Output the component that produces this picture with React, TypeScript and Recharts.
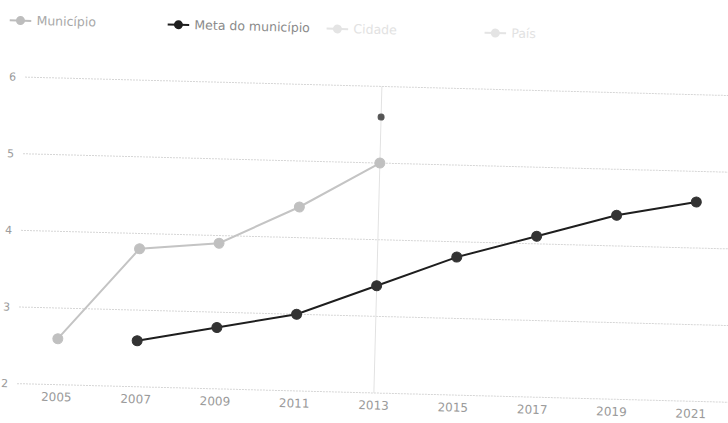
import React from "react";
import {
  LineChart,
  Line,
  XAxis,
  YAxis,
  CartesianGrid,
  Legend,
  ReferenceLine,
  ReferenceDot,
} from "recharts";

const years = [2005, 2007, 2009, 2011, 2013, 2015, 2017, 2019, 2021];
const municipio: (number | null)[] = [2.6, 3.8, 3.9, 4.4, 5.0, null, null, null, null];
const metaMunicipio: (number | null)[] = [null, 2.6, 2.8, 3.0, 3.4, 3.8, 4.1, 4.4, 4.6];
const yTicks = [2, 3, 4, 5, 6];
const legendLabels = ["Município", "Meta do município", "Cidade", "País"];
const cursorYear = 2013;
const tooltipAnchor = { year: 2013, value: 5.6 };

const data = years.map((year, i) => ({
  year,
  municipio: municipio[i],
  meta: metaMunicipio[i],
}));

const FONT = "'DejaVu Sans', sans-serif";

const legendStyles = [
  { left: 4, icon: "#bdbdbd", text: "#a8a8a8" },
  { left: 162, icon: "#1e1e1e", text: "#8a8a8a" },
  { left: 321, icon: "#e4e4e4", text: "#e2e2e2" },
  { left: 479, icon: "#e4e4e4", text: "#e2e2e2" },
];

function LegendContent() {
  return (
    <div style={{ position: "relative", height: 0, width: 740 }}>
      {legendLabels.map((label, i) => {
        const s = legendStyles[i];
        return (
          <div
            key={label}
            style={{
              position: "absolute",
              left: s.left,
              top: 22,
              display: "flex",
              alignItems: "center",
              fontFamily: FONT,
              fontSize: 12.5,
              color: s.text,
              whiteSpace: "nowrap",
            }}
          >
            <svg width={22} height={14} style={{ marginRight: 5 }}>
              <line x1={0} y1={7} x2={22} y2={7} stroke={s.icon} strokeWidth={2} />
              <circle cx={11} cy={7} r={4.5} fill={s.icon} />
            </svg>
            <span>{label}</span>
          </div>
        );
      })}
    </div>
  );
}

export default function App() {
  return (
    <div
      style={{
        position: "absolute",
        left: 0,
        top: 0,
        width: 728,
        height: 423,
        overflow: "hidden",
        background: "#ffffff",
      }}
    >
      <div
        style={{
          width: 740,
          height: 430,
          transform: "rotate(1.5deg)",
          transformOrigin: "377px 235px",
        }}
      >
        <LineChart
          width={740}
          height={430}
          data={data}
          margin={{ top: 67, right: 5, left: 0, bottom: 7 }}
        >
          <CartesianGrid
            vertical={false}
            stroke="#d6d6d6"
            strokeDasharray="2 1"
          />
          <XAxis
            dataKey="year"
            type="number"
            domain={[2004, 2022]}
            ticks={years}
            interval={0}
            axisLine={false}
            tickLine={false}
            tickSize={6}
            tickMargin={2}
            height={30}
            tick={{ fill: "#9a9a9a", fontSize: 12, fontFamily: FONT }}
          />
          <YAxis
            type="number"
            domain={[2, 6]}
            ticks={yTicks}
            width={21}
            axisLine={false}
            tickLine={false}
            tickSize={4}
            tickMargin={5}
            tick={{ fill: "#9a9a9a", fontSize: 11, fontFamily: FONT }}
          />
          <Legend
            verticalAlign="top"
            align="left"
            content={<LegendContent />}
            wrapperStyle={{ position: "absolute", top: 0, left: 0, width: 740, height: 0 }}
          />
          <ReferenceLine x={cursorYear} stroke="#e2e2e2" strokeWidth={1} />
          <Line
            dataKey="municipio"
            name="Município"
            stroke="#c4c4c4"
            strokeWidth={2}
            dot={{ r: 5, fill: "#c0c0c0", stroke: "#c0c0c0", strokeWidth: 1 }}
            isAnimationActive={false}
            connectNulls={false}
          />
          <Line
            dataKey="meta"
            name="Meta do município"
            stroke="#1e1e1e"
            strokeWidth={2}
            dot={{ r: 5, fill: "#333333", stroke: "#333333", strokeWidth: 1 }}
            isAnimationActive={false}
            connectNulls={false}
          />
          <ReferenceDot
            x={tooltipAnchor.year}
            y={tooltipAnchor.value}
            r={3}
            fill="#555555"
            stroke="#555555"
          />
        </LineChart>
      </div>
    </div>
  );
}
